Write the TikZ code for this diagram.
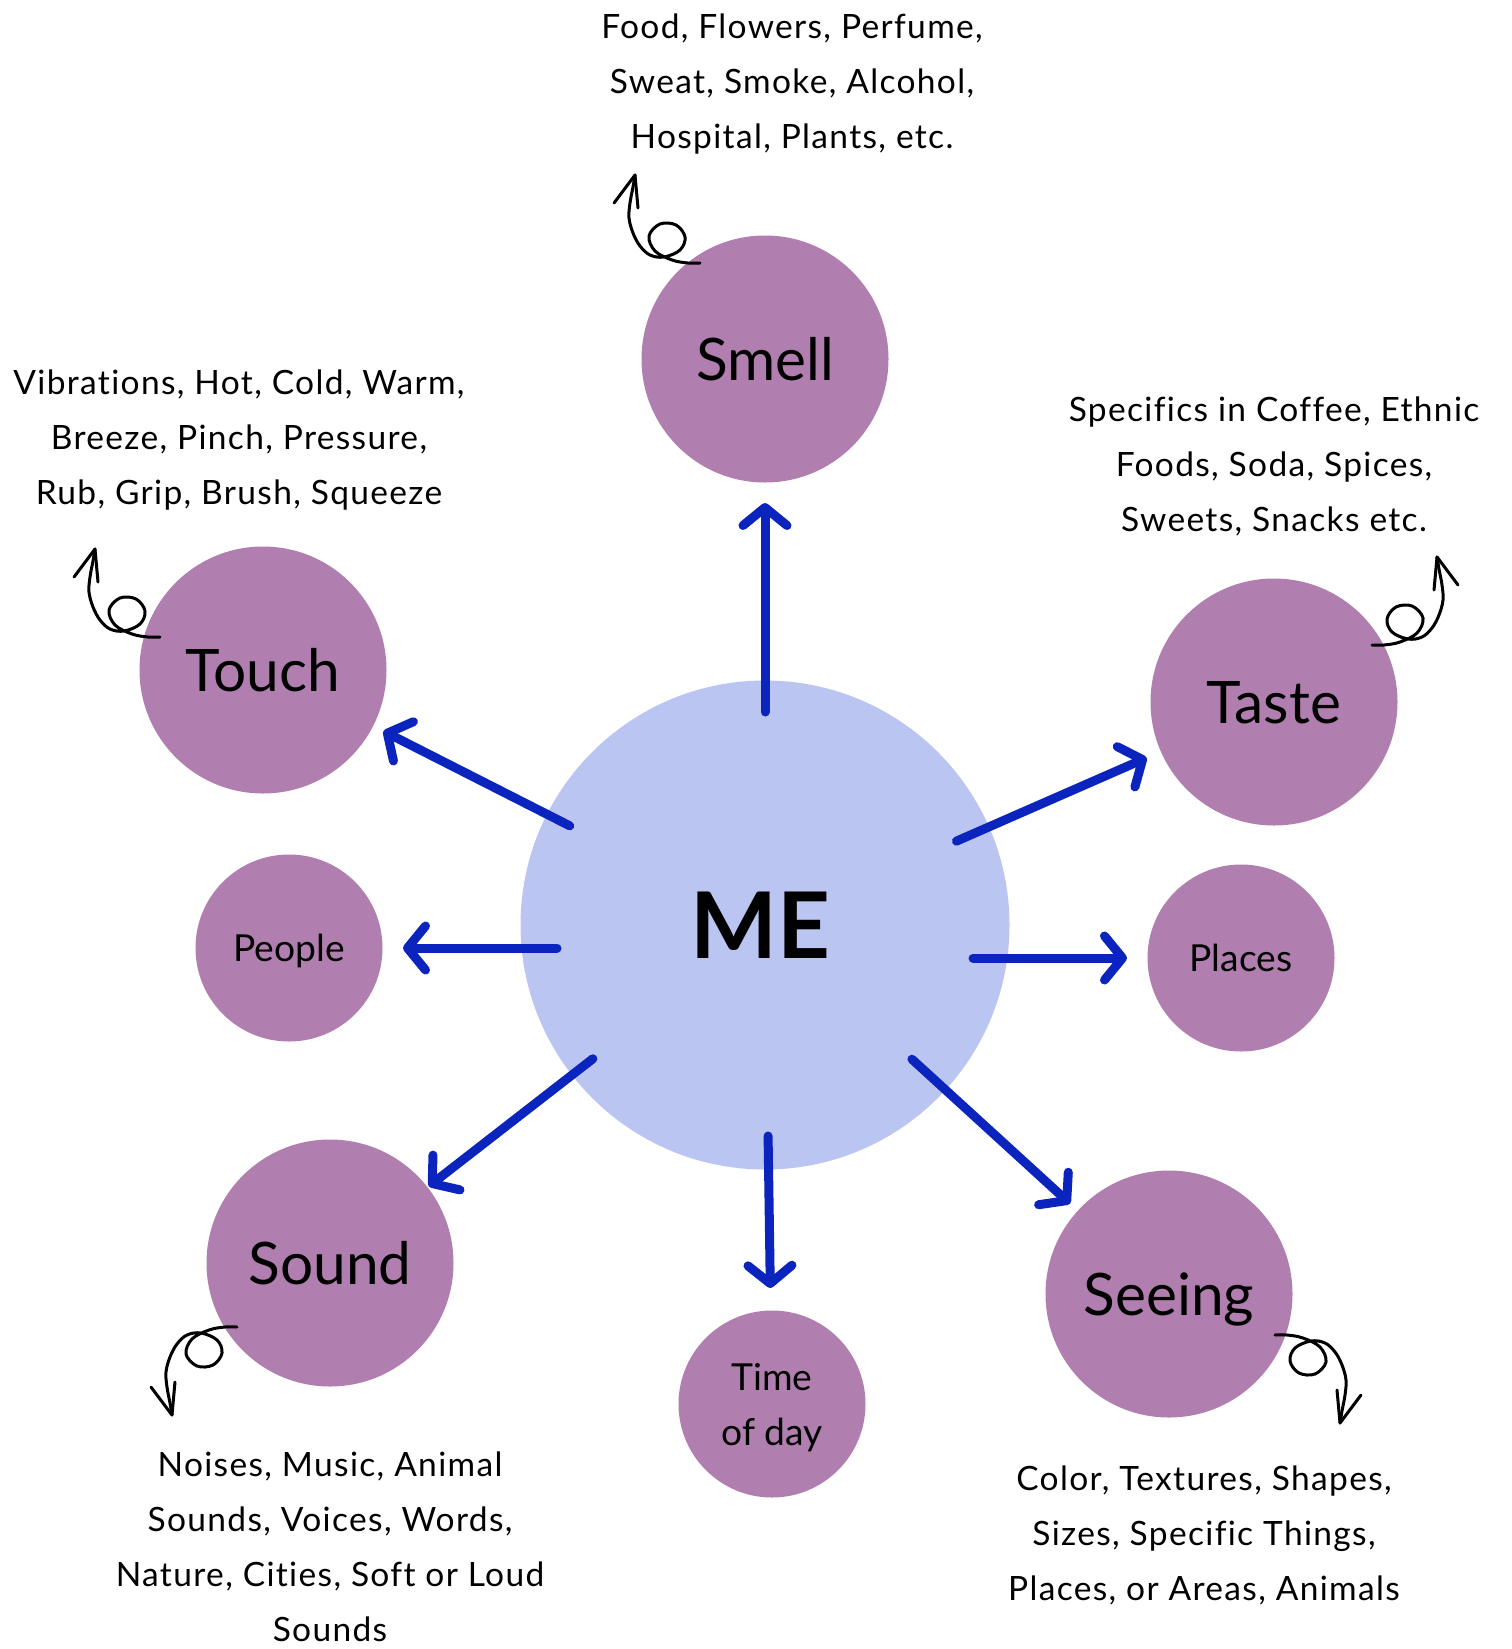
\documentclass[tikz,border=0pt]{standalone}
\usepackage{fontspec}
\setmainfont[Ligatures=NoCommon]{Lato}
\usetikzlibrary{arrows.meta}
\definecolor{sense}{HTML}{B07EAF}
\definecolor{mecol}{HTML}{BBC5F2}
\definecolor{arrblue}{HTML}{0B24BE}
\newfontfamily\notefont[LetterSpace=4,Ligatures=NoCommon]{Lato}
\tikzset{
  bigsense/.style={circle, fill=sense, minimum size=247pt, inner sep=0pt,
    font=\fontsize{58.6}{60}\selectfont, text height=42pt, text depth=0pt},
  smallsense/.style={circle, fill=sense, minimum size=187pt, inner sep=0pt,
    font=\fontsize{37.2}{55}\selectfont, text height=26.7pt, text depth=0pt},
  mecirc/.style={circle, fill=mecol, minimum size=489pt, inner sep=0pt,
    font=\fontsize{92}{92}\selectfont\bfseries, text height=66pt, text depth=0pt},
  note/.style={align=center, font=\notefont\fontsize{33.5}{55}\selectfont, anchor=base, inner sep=0pt},
  timelbl/.style={align=center, font=\fontsize{37.2}{55}\selectfont, anchor=base, inner sep=0pt},
  arr/.style={line width=9pt, draw=arrblue, line cap=round,
    -{Straight Barb[length=18pt,width=44pt,round]}},
  curl/.style={line width=3pt, line cap=round, line join=round, draw=black}
}
\newcommand\curlyarrowdraw{%
  \draw[curl] plot[smooth, tension=0.6] coordinates {(-65,-88) (-67,-76) (-70,-60) (-71,-45) (-67,-30) (-60,-17) (-50,-8) (-36,-6) (-20,-13) (-15,-26) (-24,-38) (-40,-39) (-51,-27) (-45,-12) (-28,-3) (-12,0) (0,0)};
  \draw[curl] (-86,-60) -- (-65,-88) -- (-62,-55);
}
\begin{document}
\begin{tikzpicture}[x=1pt,y=-1pt]
\useasboundingbox (0,0) rectangle (1512,1649);
% circles
\node[mecirc] (me) at (765,925) {\kern-10pt ME};
\node[bigsense] (smell) at (765,359) {Smell};
\node[bigsense] (touch) at (263,670) {Touch};
\node[bigsense] (taste) at (1274,702) {Taste};
\node[bigsense] (sound) at (330,1263) {Sound};
\node[bigsense] (seeing) at (1169,1294) {Seeing};
\node[smallsense] (people) at (289,948) {People};
\node[smallsense] (places) at (1241,958) {Places};
\node[smallsense] (time) at (772,1404) {};
\node[timelbl] (timetext) at (772,1445) {Time\\of day};
% arrows
\draw[arr, shorten <=213pt, shorten >=144pt] (me.center) -- (smell.center);
\draw[arr, shorten <=219pt, shorten >=135pt] (me.center) -- (touch.center);
\draw[arr, shorten <=209pt, shorten >=139pt] (me.center) -- (taste.center);
\draw[arr, shorten <=208pt, shorten >=114pt] (me.center |- people.center) -- (people.center);
\draw[arr, shorten <=208pt, shorten >=114pt] (me.center |- places.center) -- (places.center);
\draw[arr, shorten <=218pt, shorten >=125pt] (me.center) -- (sound.center);
\draw[arr, shorten <=211pt, shorten >=116pt] (me.center) -- (time.center);
\draw[arr, shorten <=199pt, shorten >=134pt] (me.center) -- (seeing.center);
% notes (anchor = baseline of last line)
\node[note] (smellnote) at (792,148) {Food, Flowers, Perfume,\\Sweat, Smoke, Alcohol,\\Hospital, Plants, etc.};
\node[note] (touchnote) at (239,504) {Vibrations, Hot, Cold, Warm,\\Breeze, Pinch, Pressure,\\Rub, Grip, Brush, Squeeze};
\node[note] (tastenote) at (1274,531) {Specifics in Coffee, Ethnic\\Foods, Soda, Spices,\\Sweets, Snacks etc.};
\node[note] (soundnote) at (330,1641) {Noises, Music, Animal\\Sounds, Voices, Words,\\Nature, Cities, Soft or Loud\\Sounds};
\node[note] (seeingnote) at (1204,1600) {Color, Textures, Shapes,\\Sizes, Specific Things,\\Places, or Areas, Animals};
% curly arrows
\begin{scope}[shift={(700,263)}] \curlyarrowdraw \end{scope}
\begin{scope}[shift={(160,637)}] \curlyarrowdraw \end{scope}
\begin{scope}[shift={(1372,645)}, xscale=-1] \curlyarrowdraw \end{scope}
\begin{scope}[shift={(237,1327)}, yscale=-1] \curlyarrowdraw \end{scope}
\begin{scope}[shift={(1275,1335)}, rotate=180] \curlyarrowdraw \end{scope}
\end{tikzpicture}
\end{document}
